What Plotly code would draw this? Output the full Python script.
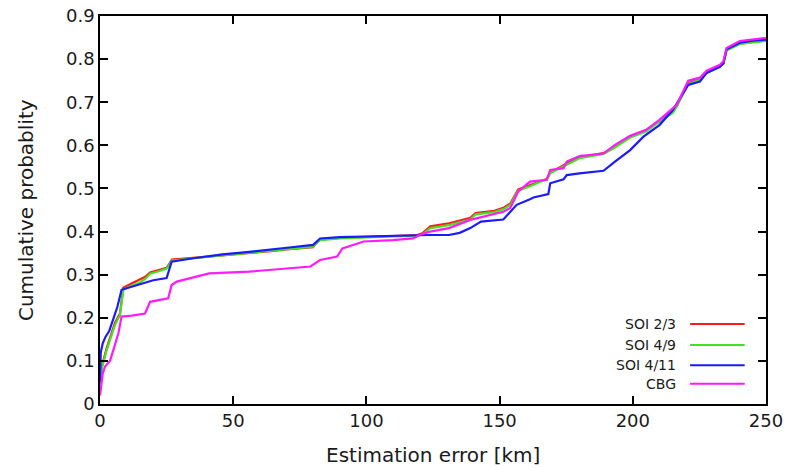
import plotly.graph_objects as go

# ---- data ----
x_rg = [0, 0.6, 2.5, 4.5, 5.6, 7.5, 8.75, 12, 15, 17, 18.8, 22, 25, 26.3, 27, 35, 46, 56, 65, 71, 80, 81,
        82.6, 90, 100, 110, 119, 121, 124, 131, 139, 141, 148, 151.4, 154, 157, 161.4, 165, 167.7, 169,
        172, 175.2, 180, 189, 193.3, 199, 205, 210, 215, 216.5, 220.8, 225.2, 227.7, 232.7, 234, 235.2,
        240.2, 245, 250]
soi23 = [0.03, 0.085, 0.13, 0.165, 0.188, 0.21, 0.27, 0.28, 0.288, 0.295, 0.305, 0.311, 0.316, 0.328,
         0.335, 0.339, 0.345, 0.349, 0.355, 0.359, 0.364, 0.372, 0.381, 0.385, 0.388, 0.39, 0.392, 0.396,
         0.412, 0.419, 0.432, 0.443, 0.448, 0.455, 0.465, 0.498, 0.508, 0.517, 0.522, 0.537, 0.547,
         0.558, 0.572, 0.582, 0.597, 0.62, 0.635, 0.657, 0.677, 0.692, 0.745, 0.753, 0.77, 0.783, 0.79,
         0.822, 0.836, 0.84, 0.843]
soi49 = [0.03, 0.08, 0.125, 0.16, 0.183, 0.206, 0.265, 0.275, 0.282, 0.29, 0.302, 0.308, 0.314, 0.325,
         0.333, 0.338, 0.345, 0.35, 0.356, 0.36, 0.365, 0.372, 0.38, 0.384, 0.387, 0.389, 0.39, 0.393,
         0.408, 0.415, 0.428, 0.44, 0.445, 0.452, 0.462, 0.495, 0.505, 0.515, 0.52, 0.535, 0.545, 0.555,
         0.57, 0.58, 0.595, 0.618, 0.632, 0.655, 0.675, 0.69, 0.742, 0.752, 0.768, 0.782, 0.79, 0.82,
         0.835, 0.839, 0.842]

x_b = [0, 0.3, 1, 2, 3.5, 5, 6.5, 8.1, 12, 16, 20, 25, 26.9, 35, 46, 56, 65, 71, 80, 82.6, 90, 106, 118,
       124, 131, 135, 139, 143, 151.4, 156.4, 161.4, 162.7, 168.3, 169, 174, 175.2, 180, 189, 193.3, 199,
       204, 210, 215, 220.8, 225.2, 227.7, 232.7, 234, 235.2, 240.2, 245, 250]
soi411 = [0.05, 0.12, 0.14, 0.155, 0.17, 0.2, 0.225, 0.265, 0.272, 0.28, 0.287, 0.292, 0.33, 0.338,
          0.347, 0.353, 0.36, 0.363, 0.369, 0.384, 0.387, 0.39, 0.392, 0.392, 0.392, 0.397, 0.408, 0.423,
          0.428, 0.462, 0.475, 0.479, 0.487, 0.512, 0.521, 0.531, 0.535, 0.541, 0.562, 0.589, 0.62, 0.647,
          0.682, 0.74, 0.748, 0.768, 0.782, 0.79, 0.823, 0.838, 0.843, 0.845]

x_m = [0, 1, 1.9, 3.75, 5, 6.9, 8.1, 12, 16.9, 18.8, 25.6, 26.9, 28.8, 33.8, 41, 56, 71, 79, 82.6, 89, 91,
       99, 110, 117.5, 120, 124, 131, 139, 151.4, 154, 157, 161.4, 167.7, 169, 174, 175.2, 180, 189, 193.3,
       199, 205, 210, 216.5, 220.8, 225.2, 227.7, 232.7, 234, 235.2, 240.2, 250]
cbg = [0.02, 0.07, 0.087, 0.10, 0.125, 0.164, 0.203, 0.205, 0.21, 0.237, 0.245, 0.276, 0.284, 0.292,
       0.303, 0.307, 0.315, 0.319, 0.334, 0.342, 0.361, 0.377, 0.38, 0.384, 0.392, 0.40, 0.408, 0.427,
       0.446, 0.455, 0.493, 0.516, 0.52, 0.543, 0.547, 0.562, 0.575, 0.581, 0.601, 0.622, 0.636, 0.659,
       0.694, 0.75, 0.757, 0.773, 0.787, 0.795, 0.826, 0.842, 0.849]

labels = ["SOI 2/3", "SOI 4/9", "SOI 4/11", "CBG"]
colors = ["#ff1a1a", "#44e022", "#1a1aff", "#ff1aff"]
xs = [x_rg, x_rg, x_b, x_m]
ys = [soi23, soi49, soi411, cbg]

x_ticks = [0, 50, 100, 150, 200, 250]
y_ticks = [0, 0.1, 0.2, 0.3, 0.4, 0.5, 0.6, 0.7, 0.8, 0.9]
y_ticktext = ["0", "0.1", "0.2", "0.3", "0.4", "0.5", "0.6", "0.7", "0.8", "0.9"]
x_title = "Estimation error [km]"
y_title = "Cumulative probablity"

FONT = "DejaVu Sans"
TXT = "#1a1a1a"

fig = go.Figure()
for xv, yv, lab, col in zip(xs, ys, labels, colors):
    fig.add_trace(go.Scatter(x=xv, y=yv, mode="lines", name=lab,
                             line=dict(color=col, width=2.2), showlegend=False))

# gnuplot-style legend: right-aligned text with line sample on the right
leg_y = [0.206, 0.152, 0.100, 0.052]
for lab, col, yy in zip(labels, colors, leg_y):
    fig.add_annotation(x=0.868, y=yy, xref="paper", yref="paper", text=lab, showarrow=False,
                       xanchor="right", yanchor="middle",
                       font=dict(family=FONT, size=14, color=TXT))
    fig.add_shape(type="line", xref="paper", yref="paper", x0=0.886, x1=0.968, y0=yy, y1=yy,
                  line=dict(color=col, width=2))

# axis titles
fig.add_annotation(x=0.5, y=-0.131, xref="paper", yref="paper", text=x_title, showarrow=False,
                   xanchor="center", yanchor="middle", font=dict(family=FONT, size=20, color=TXT))
fig.add_annotation(x=-0.111, y=0.5, xref="paper", yref="paper", text=y_title, showarrow=False,
                   textangle=-90, xanchor="center", yanchor="middle",
                   font=dict(family=FONT, size=20, color=TXT))

axis_common = dict(showline=True, linecolor="black", linewidth=1.5, mirror="ticks",
                   ticks="inside", ticklen=8, tickwidth=1.5, tickcolor="black",
                   showgrid=False, zeroline=False, automargin=False, ticklabeloverflow="allow",
                   tickfont=dict(family=FONT, size=18, color=TXT))

fig.update_layout(
    width=789, height=469,
    margin=dict(l=100, r=23, t=16, b=65),
    plot_bgcolor="white", paper_bgcolor="white",
    xaxis=dict(range=[0, 250], tickvals=x_ticks, **axis_common),
    yaxis=dict(range=[0, 0.9], tickvals=y_ticks, ticktext=y_ticktext, **axis_common),
)

# remove the default 8px page margin so the figure fills the window exactly
fig.write_html("out.html", config={"displayModeBar": False},
               post_script="document.body.style.margin='0';")
